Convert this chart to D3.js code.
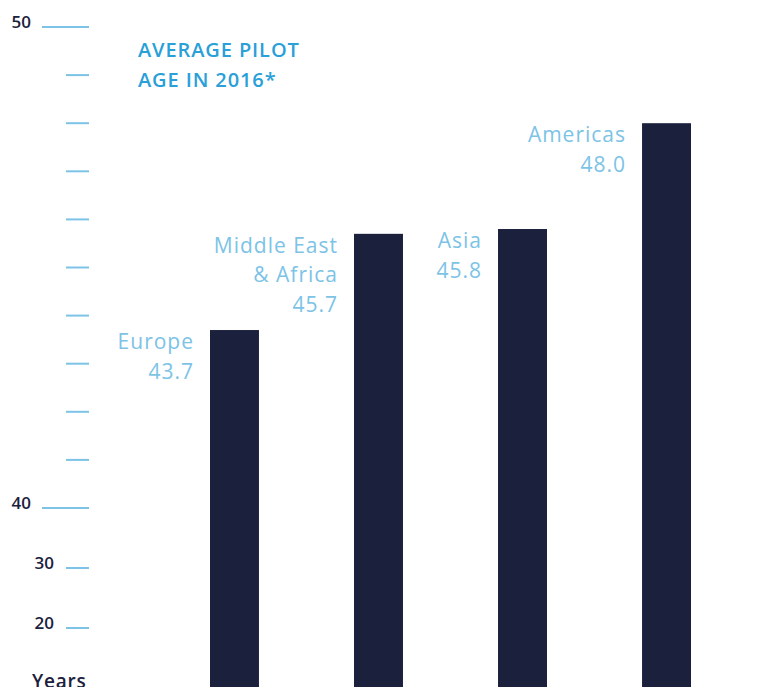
<!DOCTYPE html>
<html>
<head>
<meta charset="utf-8">
<script src="https://cdn.jsdelivr.net/npm/d3@7"></script>
<style>
  html, body { margin: 0; padding: 0; background: #fff; overflow: hidden; }
  svg { display: block; font-family: "Open Sans", "DejaVu Sans", sans-serif; }
</style>
</head>
<body>
<div id="chart"></div>
<script>
const w = 758, h = 687;

const regions = ["Europe", "Middle East & Africa", "Asia", "Americas"];
const regionLines = [["Europe"], ["Middle East", "& Africa"], ["Asia"], ["Americas"]];
const ages = [43.7, 45.7, 45.8, 48.0];

const majorTicks = [50, 40];
const minorTicks = [41, 42, 43, 44, 45, 46, 47, 48, 49];
const lowTicks = [30, 20];
const titleLines = ["AVERAGE PILOT", "AGE IN 2016*"];

const colDark = "#1b213d";
const colTick = "#7cc3e6";
const colTitle = "#2a9fd8";

const svg = d3.select("#chart").append("svg")
  .attr("width", w)
  .attr("height", h)
  .attr("viewBox", `0 0 ${w} ${h}`);

// broken axis: 1 year per 48px above 40, compressed below
const y = d3.scaleLinear()
  .domain([10, 20, 30, 40, 50])
  .range([688, 628, 568, 508, 27]);

const x = d3.scaleBand()
  .domain(regions)
  .range([210, 691])
  .paddingInner(0.66)
  .paddingOuter(0);

// axis ticks
const axis = svg.append("g");

axis.selectAll("line.major")
  .data(majorTicks)
  .join("line")
    .attr("class", "major")
    .attr("x1", 42).attr("x2", 89)
    .attr("y1", d => y(d)).attr("y2", d => y(d))
    .attr("stroke", colTick)
    .attr("stroke-width", 2);

axis.selectAll("line.minor")
  .data(minorTicks.concat(lowTicks))
  .join("line")
    .attr("class", "minor")
    .attr("x1", 66).attr("x2", 89)
    .attr("y1", d => y(d)).attr("y2", d => y(d))
    .attr("stroke", colTick)
    .attr("stroke-width", 2);

axis.selectAll("text.major")
  .data(majorTicks)
  .join("text")
    .attr("class", "major")
    .attr("x", 31)
    .attr("y", d => y(d) + 1)
    .attr("text-anchor", "end")
    .attr("fill", colDark)
    .attr("font-size", 17)
    .attr("font-weight", 600)
    .text(d => d);

axis.selectAll("text.low")
  .data(lowTicks)
  .join("text")
    .attr("class", "low")
    .attr("x", 54)
    .attr("y", d => y(d) + 1)
    .attr("text-anchor", "end")
    .attr("fill", colDark)
    .attr("font-size", 17)
    .attr("font-weight", 600)
    .text(d => d);

axis.append("text")
  .attr("x", 32)
  .attr("y", 688)
  .attr("fill", colDark)
  .attr("font-size", 19)
  .attr("font-weight", 600)
  .attr("letter-spacing", 0.8)
  .text("Years");

// title
svg.append("text")
  .attr("x", 138)
  .attr("y", 57)
  .attr("fill", colTitle)
  .attr("font-size", 20)
  .attr("font-weight", 600)
  .attr("letter-spacing", 0.9)
  .selectAll("tspan")
  .data(titleLines)
  .join("tspan")
    .attr("x", 138)
    .attr("dy", (d, i) => i === 0 ? 0 : 30)
    .text(d => d);

// bars
svg.append("g").selectAll("rect")
  .data(ages)
  .join("rect")
    .attr("x", (d, i) => x(regions[i]))
    .attr("y", d => y(d))
    .attr("width", x.bandwidth())
    .attr("height", d => h - y(d) + 2)
    .attr("fill", colDark);

// labels to the left of each bar
svg.append("g").selectAll("text")
  .data(ages)
  .join("text")
    .attr("text-anchor", "end")
    .attr("fill", colTick)
    .attr("font-size", 21)
    .attr("letter-spacing", 1)
    .attr("transform", (d, i) => `translate(${x(regions[i]) - 16},${y(d) + 19})`)
    .each(function(d, i) {
      const lines = regionLines[i].concat([d.toFixed(1)]);
      d3.select(this).selectAll("tspan")
        .data(lines)
        .join("tspan")
          .attr("x", 0)
          .attr("dy", (t, j) => j === 0 ? 0 : 29.5)
          .text(t => t);
    });
</script>
</body>
</html>
